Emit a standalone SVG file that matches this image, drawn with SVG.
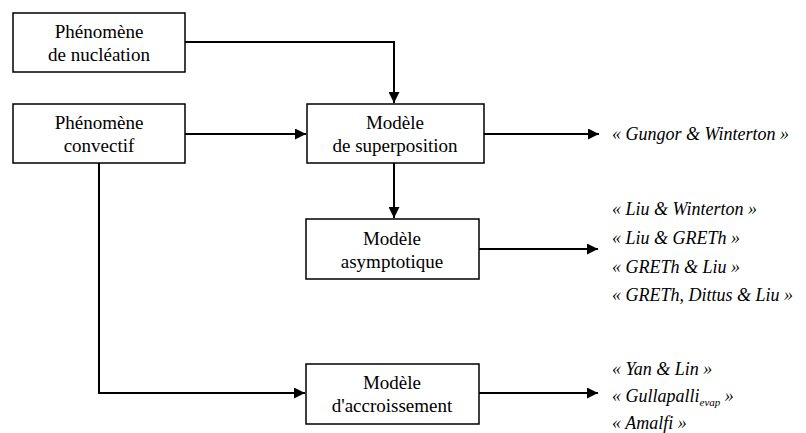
<svg xmlns="http://www.w3.org/2000/svg" width="806" height="433" viewBox="0 0 806 433">
<defs>
<style>
.box{fill:#fff;stroke:#000;stroke-width:1.5}
.t{font-family:"Liberation Serif",Tinos,"Times New Roman",serif;font-size:19px;text-anchor:middle;fill:#000}
.r{font-family:"Liberation Serif",Tinos,"Times New Roman",serif;font-size:18px;font-style:italic;fill:#000}
.sub{font-size:11px}
.c{fill:none;stroke:#000;stroke-width:2}
</style>
<marker id="a" viewBox="0 0 10 10" refX="10" refY="5" markerWidth="5.5" markerHeight="5.5" markerUnits="strokeWidth" orient="auto">
<path d="M0,0 L10,5 L0,10 z" fill="#000"/>
</marker>
</defs>
<rect width="806" height="433" fill="#fff"/>
<g id="connectors">
<path class="c" d="M185,42 H394 V103" marker-end="url(#a)"/>
<path class="c" d="M185,134 H306" marker-end="url(#a)"/>
<path class="c" d="M99,163 V393 H305" marker-end="url(#a)"/>
<path class="c" d="M394,163 V218" marker-end="url(#a)"/>
<path class="c" d="M484,134 H599" marker-end="url(#a)"/>
<path class="c" d="M479,249 H598" marker-end="url(#a)"/>
<path class="c" d="M479,393 H598" marker-end="url(#a)"/>
</g>
<g id="nucleation">
<rect class="box" x="13" y="13" width="172" height="59"/>
<text class="t" font-family="Liberation Serif" x="99" y="38">Phénomène</text>
<text class="t" font-family="Liberation Serif" x="99" y="61">de nucléation</text>
</g>
<g id="convectif">
<rect class="box" x="13" y="104" width="172" height="59"/>
<text class="t" font-family="Liberation Serif" x="99" y="129">Phénomène</text>
<text class="t" font-family="Liberation Serif" x="99" y="152">convectif</text>
</g>
<g id="superposition">
<rect class="box" x="307" y="104" width="177" height="59"/>
<text class="t" font-family="Liberation Serif" x="395" y="129">Modèle</text>
<text class="t" font-family="Liberation Serif" x="395" y="152">de superposition</text>
</g>
<g id="asymptotique">
<rect class="box" x="306" y="219" width="173" height="60"/>
<text class="t" font-family="Liberation Serif" x="392" y="245">Modèle</text>
<text class="t" font-family="Liberation Serif" x="392" y="268">asymptotique</text>
</g>
<g id="accroissement">
<rect class="box" x="306" y="364" width="173" height="60"/>
<text class="t" font-family="Liberation Serif" x="392" y="389">Modèle</text>
<text class="t" font-family="Liberation Serif" x="392" y="412">d'accroissement</text>
</g>
<g id="labels">
<text class="r" font-family="Liberation Serif" x="612" y="140">« Gungor &amp; Winterton »</text>
<text class="r" font-family="Liberation Serif" x="612" y="215">« Liu &amp; Winterton »</text>
<text class="r" font-family="Liberation Serif" x="612" y="244">« Liu &amp; GRETh »</text>
<text class="r" font-family="Liberation Serif" x="612" y="273">« GRETh &amp; Liu »</text>
<text class="r" font-family="Liberation Serif" x="612" y="301">« GRETh, Dittus &amp; Liu »</text>
<text class="r" font-family="Liberation Serif" x="612" y="375">« Yan &amp; Lin »</text>
<text class="r" font-family="Liberation Serif" x="612" y="402">« Gullapalli<tspan class="sub" dy="4">evap</tspan><tspan dy="-4"> »</tspan></text>
<text class="r" font-family="Liberation Serif" x="612" y="429">« Amalfi »</text>
</g>
</svg>
